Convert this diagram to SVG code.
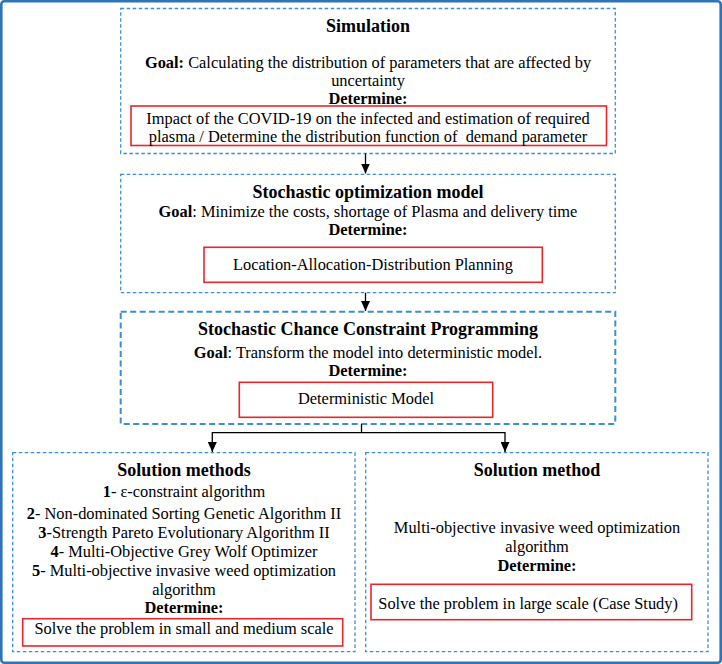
<svg xmlns="http://www.w3.org/2000/svg" width="722" height="664" viewBox="0 0 722 664">
<defs>
<marker id="ah" markerWidth="10" markerHeight="9" refX="10" refY="4.5" orient="auto-start-reverse" markerUnits="userSpaceOnUse" viewBox="0 0 10 9">
<path d="M0,0 L10,4.5 L0,9 Z" fill="#000"/>
</marker>
<style>
.t{font-family:"Liberation Serif","Times New Roman",serif;font-size:16.4px;fill:#000;text-anchor:middle}
.h{font-family:"Liberation Serif","Times New Roman",serif;font-size:18px;font-weight:bold;fill:#000;text-anchor:middle}
.b{font-weight:bold}
.dash{fill:none;stroke:#3b8fd8;stroke-width:1.3;stroke-dasharray:3.5 2.5}
.dash2{fill:none;stroke:#3b8fd8;stroke-width:2;stroke-dasharray:6 3.5}
.red{fill:none;stroke:#e8262b;stroke-width:1.6}
.con{fill:none;stroke:#000;stroke-width:1.3}
</style>
</defs>
<rect x="1.3" y="1.3" width="719.4" height="661.4" rx="3" fill="#fff" stroke="#2f74b8" stroke-width="2.6"/>

<g id="simulation">
<rect class="dash" x="120.7" y="8.5" width="494.6" height="145"/>
<text class="h" x="368" y="31.5">Simulation</text>
<text class="t" x="368" y="67.5"><tspan class="b">Goal:</tspan> Calculating the distribution of parameters that are affected by</text>
<text class="t" x="368" y="85.5">uncertainty</text>
<text class="t b" x="368" y="103.5">Determine:</text>
<rect class="red" x="131" y="106" width="475.5" height="39.5"/>
<text class="t" x="368" y="124">Impact of the COVID-19 on the infected and estimation of required</text>
<text class="t" x="368" y="141.5" xml:space="preserve">plasma / Determine the distribution function of  demand parameter</text>
</g>

<g id="stochastic-optimization">
<rect class="dash" x="120.7" y="174.3" width="494.6" height="118.4"/>
<text class="h" x="368" y="197.5">Stochastic optimization model</text>
<text class="t" x="368" y="217"><tspan class="b">Goal</tspan>: Minimize the costs, shortage of Plasma and delivery time</text>
<text class="t b" x="368" y="235">Determine:</text>
<rect class="red" x="204" y="247.3" width="338.3" height="35"/>
<text class="t" x="373" y="269.5">Location-Allocation-Distribution Planning</text>
</g>

<g id="chance-constraint">
<rect class="dash2" x="120.7" y="311.7" width="494.6" height="112.3"/>
<text class="h" x="368" y="335">Stochastic Chance Constraint Programming</text>
<text class="t" x="368" y="357.5"><tspan class="b">Goal</tspan>: Transform the model into deterministic model.</text>
<text class="t b" x="368" y="376">Determine:</text>
<rect class="red" x="239.3" y="382.3" width="253.4" height="35"/>
<text class="t" x="366" y="404">Deterministic Model</text>
</g>

<g id="solution-methods">
<rect class="dash" x="12.7" y="452.7" width="342.3" height="199"/>
<text class="h" x="184" y="476">Solution methods</text>
<text class="t" x="184" y="497.3"><tspan class="b">1</tspan>- ε-constraint algorithm</text>
<text class="t" x="184" y="519.3"><tspan class="b">2</tspan>- Non-dominated Sorting Genetic Algorithm II</text>
<text class="t" x="184" y="538.3"><tspan class="b">3</tspan>-Strength Pareto Evolutionary Algorithm II</text>
<text class="t" x="184" y="556.7"><tspan class="b">4</tspan>- Multi-Objective Grey Wolf Optimizer</text>
<text class="t" x="184" y="575.7"><tspan class="b">5</tspan>- Multi-objective invasive weed optimization</text>
<text class="t" x="184" y="595">algorithm</text>
<text class="t b" x="184" y="613.3">Determine:</text>
<rect class="red" x="22.7" y="618.7" width="320" height="27.3"/>
<text class="t" x="184" y="634.3">Solve the problem in small and medium scale</text>
</g>

<g id="solution-method">
<rect class="dash" x="365.7" y="452.7" width="342.3" height="199"/>
<text class="h" x="537" y="476">Solution method</text>
<text class="t" x="537" y="533.3">Multi-objective invasive weed optimization</text>
<text class="t" x="537" y="551.7">algorithm</text>
<text class="t b" x="537" y="571">Determine:</text>
<rect class="red" x="371" y="584.3" width="320.7" height="35.4"/>
<text class="t" x="378.3" y="609.3" style="text-anchor:start">Solve the problem in large scale (Case Study)</text>
</g>

<g id="connectors">
<path class="con" d="M365.5,153.5 V173.5" marker-end="url(#ah)"/>
<path class="con" d="M365.5,292.7 V311" marker-end="url(#ah)"/>
<path class="con" d="M361.5,424 V432.7"/>
<path class="con" d="M212.3,452 V432.7 H505 V452" marker-start="url(#ah)" marker-end="url(#ah)"/>
</g>
</svg>
